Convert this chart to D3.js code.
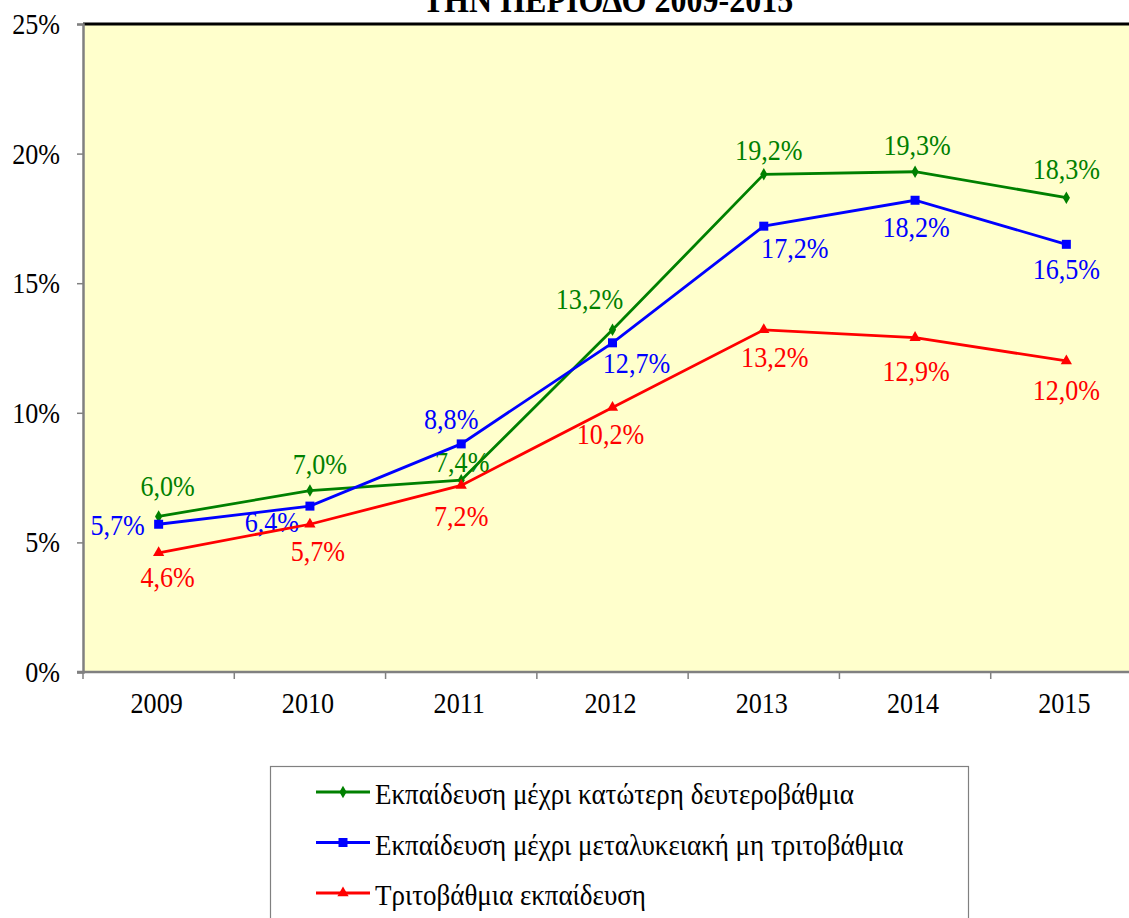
<!DOCTYPE html>
<html>
<head>
<meta charset="utf-8">
<script src="https://cdn.jsdelivr.net/npm/d3@7"></script>
<style>
  body { margin: 0; background: #fff; }
  svg { display: block; font-family: "Liberation Serif", "Times New Roman", serif; }
</style>
</head>
<body>
<div id="chart"></div>
<script>
const years = ["2009", "2010", "2011", "2012", "2013", "2014", "2015"]
const lowerSecondary = [6.0, 7.0, 7.4, 13.2, 19.2, 19.3, 18.3]
const postSecondary = [5.7, 6.4, 8.8, 12.7, 17.2, 18.2, 16.5]
const tertiary = [4.6, 5.7, 7.2, 10.2, 13.2, 12.9, 12.0]
const yTicks = [0, 5, 10, 15, 20, 25]
const seriesNames = [
    "Εκπαίδευση μέχρι κατώτερη δευτεροβάθμια",
    "Εκπαίδευση μέχρι μεταλυκειακή μη τριτοβάθμια",
    "Τριτοβάθμια εκπαίδευση"
]

// hand placed data labels (offset of label centre / baseline from the point)
const series = [
    { name: seriesNames[0], values: lowerSecondary, color: "#008000", marker: "diamond",
      dx: [9, 10, 1, -23, 5, 2, 0], dy: [-20, -17, -8, -21, -14, -17, -19] },
    { name: seriesNames[1], values: postSecondary, color: "#0000ff", marker: "square",
      dx: [-41, -38, -10, 24, 31, 1, 0], dy: [11, 26, -15, 30, 32, 37, 35] },
    { name: seriesNames[2], values: tertiary, color: "#ff0000", marker: "triangle",
      dx: [9, 8, 0, -2, 11, 1, 0], dy: [34, 37, 41, 36, 37, 43, 39] }
]

// the original text is a bit narrow and tall
var FS = 30, SX = 0.87
function place(sel, fx, fy, sx) {
    sel.attr("x", 0).attr("y", 0)
        .attr("transform", (d, i) => "translate(" + fx(d, i) + "," + fy(d, i) + ") scale(" + (sx || SX) + ",1)")
}

var width = 1129, height = 918
var svg = d3.select("#chart").append("svg")
    .attr("width", width).attr("height", height)

var plotL = 83, plotT = 24, plotR = 1142, plotB = 672

var x = d3.scaleBand().domain(years).range([plotL, plotR])
var y = d3.scaleLinear().domain([0, 25]).range([plotB, plotT])

// plot area
svg.append("rect")
    .attr("x", plotL).attr("y", plotT)
    .attr("width", plotR - plotL).attr("height", plotB - plotT)
    .attr("fill", "#ffffcc")

svg.append("line")
    .attr("x1", plotL).attr("x2", plotR)
    .attr("y1", plotT).attr("y2", plotT)
    .attr("stroke", "#000").attr("stroke-width", 3)

// title (cut off at the top of the picture)
svg.append("text")
    .attr("text-anchor", "middle")
    .attr("font-weight", "bold")
    .attr("font-size", 36)
    .text("ΤΗΝ ΠΕΡΙΟΔΟ 2009-2015")
    .call(place, () => 608, () => 11.5, 0.89)

// y axis
var yAxis = svg.append("g")
    .attr("transform", "translate(" + plotL + ",0)")
    .call(d3.axisLeft(y).tickValues(yTicks).tickSize(6).tickFormat(d => d + "%"))
yAxis.attr("font-family", null).attr("font-size", null)
yAxis.select(".domain").attr("stroke", "#808080").attr("stroke-width", 2.5)
yAxis.selectAll(".tick line").attr("stroke", "#808080").attr("stroke-width", 1.5)
yAxis.selectAll(".tick text")
    .attr("font-size", FS).attr("fill", "#000").attr("dy", null)
    .call(place, () => -23, () => 9.5)

// x axis: ticks between categories
var xAxis = svg.append("g")
    .attr("transform", "translate(0," + plotB + ")")
xAxis.append("line")
    .attr("x1", plotL - 6).attr("x2", plotR)
    .attr("stroke", "#808080").attr("stroke-width", 2.5)
xAxis.selectAll(".xt")
    .data(years.concat(["end"]))
    .enter().append("line")
    .attr("x1", (d, i) => plotL + i * x.step())
    .attr("x2", (d, i) => plotL + i * x.step())
    .attr("y1", 0).attr("y2", 7)
    .attr("stroke", "#808080").attr("stroke-width", 1.5)
xAxis.selectAll(".xl")
    .data(years)
    .enter().append("text")
    .attr("text-anchor", "middle")
    .attr("font-size", FS)
    .text(d => d)
    .call(place, d => x(d) + x.bandwidth() / 2 - 2, () => 41)

var cx = d => x(d) + x.bandwidth() / 2

function markerPath(type) {
    if (type === "diamond") return d3.symbol().type(d3.symbolDiamond).size(45)()
    if (type === "square") return d3.symbol().type(d3.symbolSquare).size(81)()
    return d3.symbol().type(d3.symbolTriangle).size(55)()
}

var line = d3.line()
    .x((d, i) => cx(years[i]))
    .y(d => y(d))

series.forEach(s => {
    var g = svg.append("g")
    g.append("path")
        .datum(s.values)
        .attr("d", line)
        .attr("fill", "none")
        .attr("stroke", s.color)
        .attr("stroke-width", 2.8)

    g.selectAll(".m")
        .data(s.values)
        .enter().append("path")
        .attr("d", markerPath(s.marker))
        .attr("transform", (d, i) => "translate(" + cx(years[i]) + "," + y(d) + ")")
        .attr("fill", s.color)

    g.selectAll(".lbl")
        .data(s.values)
        .enter().append("text")
        .attr("text-anchor", "middle")
        .attr("font-size", FS)
        .attr("fill", s.color)
        .text(d => d3.format(".1f")(d).replace(".", ",") + "%")
        .call(place, (d, i) => cx(years[i]) + s.dx[i], (d, i) => y(d) + s.dy[i])
})

// legend
var legend = svg.append("g")
legend.append("rect")
    .attr("x", 270.5).attr("y", 766.5)
    .attr("width", 698).attr("height", 170)
    .attr("fill", "#fff")
    .attr("stroke", "#808080").attr("stroke-width", 1.2)

series.forEach((s, i) => {
    var ly = 792 + i * 50.5
    legend.append("line")
        .attr("x1", 316).attr("x2", 370)
        .attr("y1", ly).attr("y2", ly)
        .attr("stroke", s.color).attr("stroke-width", 2.8)
    legend.append("path")
        .attr("d", markerPath(s.marker))
        .attr("transform", "translate(343," + ly + ")")
        .attr("fill", s.color)
    legend.append("text")
        .attr("font-size", FS)
        .text(s.name)
        .call(place, () => 375, () => ly + 12, 0.9)
})
</script>
</body>
</html>
